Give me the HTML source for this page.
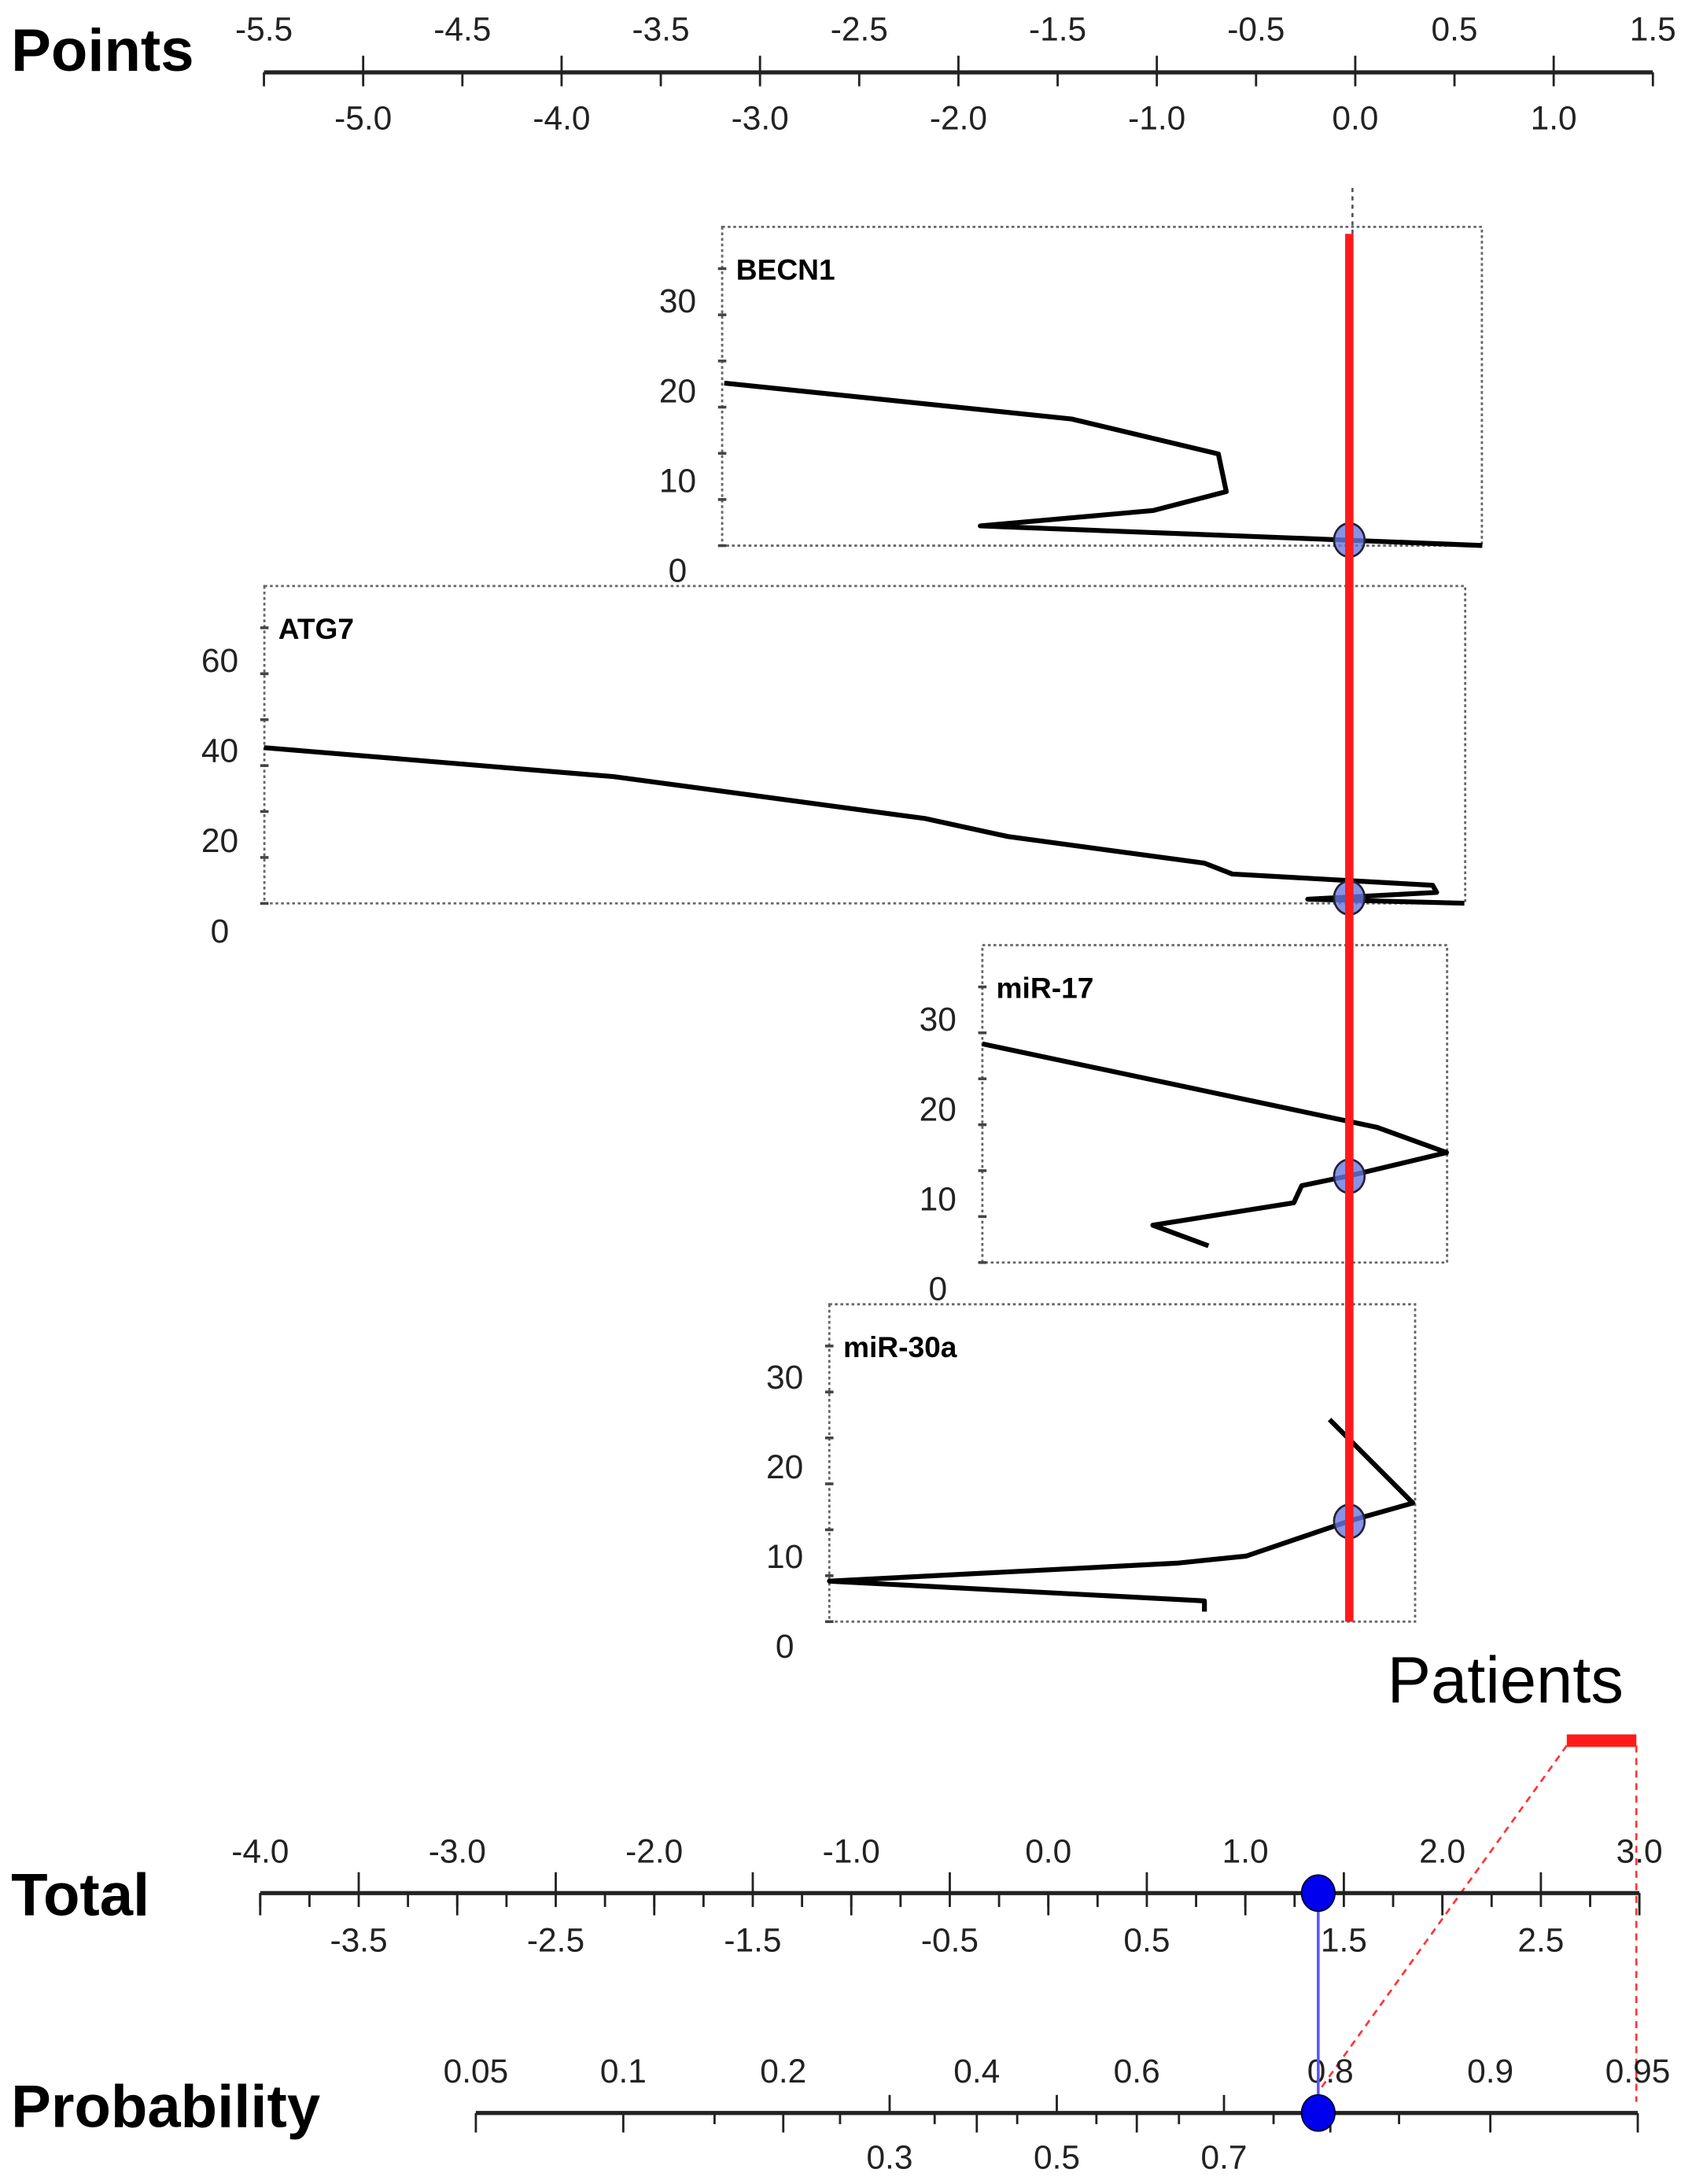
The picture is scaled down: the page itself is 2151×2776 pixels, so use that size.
<!DOCTYPE html>
<html><head><meta charset="utf-8"><title>Nomogram</title>
<style>
html,body{margin:0;padding:0;background:#fff;}
svg{display:block;}
text{font-family:"Liberation Sans",sans-serif;}
.tick{font-size:24px;fill:#222;}
.ttl{font-size:43px;font-weight:bold;fill:#000;}
.pn{font-size:21px;font-weight:bold;fill:#000;}
</style></head>
<body>
<svg id="chart" width="2151" height="2776" viewBox="0 0 1216 1569" preserveAspectRatio="none" xmlns="http://www.w3.org/2000/svg"></svg>
<script>
// ---- data ----
const pointsTopLabels = [-5.5,-4.5,-3.5,-2.5,-1.5,-0.5,0.5,1.5];
const pointsBottomLabels = [-5.0,-4.0,-3.0,-2.0,-1.0,0.0,1.0];
const totalTopLabels = [-4.0,-3.0,-2.0,-1.0,0.0,1.0,2.0,3.0];
const totalBottomLabels = [-3.5,-2.5,-1.5,-0.5,0.5,1.5,2.5];
const probTopLabels = [0.05,0.1,0.2,0.4,0.6,0.8,0.9,0.95];
const probBottomLabels = [0.3,0.5,0.7];
const probMinor = [0.15,0.25,0.35,0.45,0.55,0.65,0.75,0.85];
const panelNames = ["BECN1","ATG7","miR-17","miR-30a"];
const becn1X = [-3.18,-1.43,-0.69,-0.65,-1.02,-1.89,-0.03,0.64];
const becn1D = [20.9,16.9,13.0,8.8,6.7,5.0,3.4,2.8];
const atg7X = [-5.5,-3.74,-2.17,-1.75,-0.76,-0.62,0.39,0.41,-0.24,0.55];
const atg7D = [40.7,34.3,25.0,21.0,15.1,12.7,10.2,8.6,7.1,6.2];
const mir17X = [-1.88,0.11,0.46,-0.03,-0.27,-0.31,-1.02,-0.74];
const mir17D = [27.3,18.0,15.2,12.6,11.5,9.6,7.1,4.8];
const mir30aX = [-0.13,0.29,-0.03,-0.55,-0.90,-2.65,-0.76,-0.76];
const mir30aD = [25.3,16.0,14.0,10.1,9.3,7.3,5.1,3.9];
const patientPoints = [-0.03,-0.03,-0.03,-0.03];
const panelYTicks = [[0,10,20,30],[0,20,40,60],[0,10,20,30],[0,10,20,30]];
const totalValue = 1.37;

// ---- layout ----
const NS="http://www.w3.org/2000/svg";
const svg=document.getElementById('chart');
function mk(tag,attrs,parent){const e=document.createElementNS(NS,tag);for(const k in attrs)e.setAttribute(k,attrs[k]);(parent||svg).appendChild(e);return e;}
const px = v => 974 + v*142.6;            // points axis
const tx = v => 187 + (v+4)*141.6;        // total axis
const logit = p => Math.log(p/(1-p));
const prx = p => 759.5 + logit(p)*141.8;  // probability axis

function axisLine(x1,x2,y,name){
  const l=mk('line',{x1:x1,x2:x2,y1:y,y2:y,stroke:'#222','stroke-width':3});
  
  
}
function tick(x,y1,y2){const t=mk('line',{x1:x,x2:x,y1:y1,y2:y2,stroke:'#222','stroke-width':1.6});
  
  }
function label(x,y,s,cls,name,anchor){const t=mk('text',{x:x,y:y,'class':cls,'text-anchor':anchor||'middle'});t.textContent=s;
  
  return t;}

// Points axis
label(8,51,'Points','ttl','points-axis-title','start');
axisLine(px(-5.5),px(1.5),52,'points-axis-line');
for(let v=-5.5;v<=1.51;v+=0.5){tick(px(v),52,62);}
pointsBottomLabels.forEach(v=>tick(px(v),40,52));
pointsTopLabels.forEach(v=>label(px(v),29,v.toFixed(1),'tick','points-top-tick-label'));
pointsBottomLabels.forEach(v=>label(px(v),93,v.toFixed(1),'tick','points-bottom-tick-label'));

// panels
const panelBox=[{x1:519,x2:1065,y1:163,y2:392,zero:410,sc:6.45},
                {x1:190,x2:1053,y1:421,y2:649,zero:669,sc:3.24},
                {x1:706,x2:1040,y1:679,y2:907,zero:926,sc:6.45},
                {x1:596,x2:1017,y1:937,y2:1165,zero:1183,sc:6.45}];
const panelX=[becn1X,atg7X,mir17X,mir30aX];
const panelD=[becn1D,atg7D,mir17D,mir30aD];
mk('line',{x1:972,x2:972,y1:135,y2:168,stroke:'#555','stroke-width':1.5,'stroke-dasharray':'3,3'});
panelNames.forEach((nm,i)=>{
  const b=panelBox[i];
  const g=mk('g',{});
  
  
  mk('rect',{x:b.x1,y:b.y1,width:b.x2-b.x1,height:b.y2-b.y1,fill:'none',stroke:'#666','stroke-width':1.6,'stroke-dasharray':'2,2'},g);
  for(let y=b.y2;y>b.y1+25;y-=(b.y2-b.y1-30)/6){mk('line',{x1:b.x1-3,x2:b.x1+3,y1:y,y2:y,stroke:'#444','stroke-width':2},g);}
  label(b.x1+10,b.y1+38,nm,'pn','panel-title-'+nm.toLowerCase(),'start');
  panelYTicks[i].forEach(v=>label(b.x1-32,b.zero - v*b.sc + 8,String(v),'tick','panel-y-tick-label'));
  const pts=panelX[i].map((x,k)=>px(x).toFixed(1)+','+(b.zero-panelD[i][k]*b.sc).toFixed(1)).join(' ');
  const pl=mk('polyline',{points:pts,fill:'none',stroke:'#000','stroke-width':3.5,'stroke-linejoin':'round'},g);
  
  
});
const mkY=[388,645,845,1093];
patientPoints.forEach((v,i)=>{
  const c=mk('ellipse',{cx:px(v),cy:mkY[i],rx:11,ry:12,fill:'#6a78e0','fill-opacity':0.8,stroke:'#223','stroke-width':1.5});
  
  
});
const rl=mk('line',{x1:px(-0.03),x2:px(-0.03),y1:168,y2:1165,stroke:'#ff1a1a','stroke-width':6});



// Patients legend
label(997,1223,'Patients','tick','patients-legend-label','start').setAttribute('style','font-size:47px;fill:#000');
const lb=mk('rect',{x:1126,y:1246,width:50,height:9,fill:'#ff1a1a'});


mk('line',{x1:1126,y1:1254,x2:tx(totalValue)+2,y2:1500,stroke:'#ff3333','stroke-width':1.5,'stroke-dasharray':'5,4'});
mk('line',{x1:1176,y1:1254,x2:1176,y2:1510,stroke:'#ff3333','stroke-width':1.5,'stroke-dasharray':'5,4'});

// Total axis
label(8,1376,'Total','ttl','total-axis-title','start');
axisLine(tx(-4),tx(3),1360,'total-axis-line');
for(let v=-4;v<=3.01;v+=0.25){tick(tx(v),1360,1370);}
totalBottomLabels.forEach(v=>tick(tx(v),1345,1360));
totalTopLabels.forEach(v=>tick(tx(v),1360,1376));
totalTopLabels.forEach(v=>label(tx(v),1338,v.toFixed(1),'tick','total-top-tick-label'));
totalBottomLabels.forEach(v=>label(tx(v),1402,v.toFixed(1),'tick','total-bottom-tick-label'));

// Probability axis
label(8,1528,'Probability','ttl','probability-axis-title','start');
axisLine(prx(0.05),prx(0.95),1518,'probability-axis-line');
probTopLabels.forEach(v=>tick(prx(v),1518,1532));
probMinor.forEach(v=>tick(prx(v),1518,1526));
probBottomLabels.forEach(v=>tick(prx(v),1505,1518));
probTopLabels.forEach(v=>label(prx(v),1496,String(v),'tick','probability-top-tick-label'));
probBottomLabels.forEach(v=>label(prx(v),1558,String(v),'tick','probability-bottom-tick-label'));

// connector and markers
const prob = 1/(1+Math.exp(-((tx(totalValue)-759.5)/141.8)));
const cl=mk('line',{x1:tx(totalValue),x2:prx(prob),y1:1360,y2:1518,stroke:'#5555ff','stroke-width':2});


const m1=mk('ellipse',{cx:tx(totalValue),cy:1360,rx:12,ry:13,fill:'#0000ee',stroke:'#000033','stroke-width':1});


const m2=mk('ellipse',{cx:prx(prob),cy:1518,rx:12,ry:13,fill:'#0000ee',stroke:'#000033','stroke-width':1});


</script>
</body></html>
